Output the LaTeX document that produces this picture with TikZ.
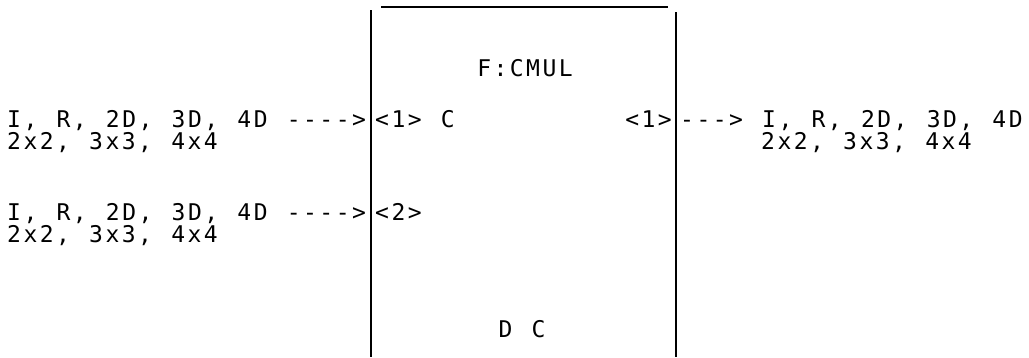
\documentclass[tikz,border=0pt]{standalone}
\usepackage{fontspec}
\setmonofont{DejaVu Sans Mono}[LetterSpace=10.8,WordSpace={1.177,0,0}]
\usetikzlibrary{positioning}
\tikzset{
  txt/.style={font=\ttfamily\fontsize{23}{23}\selectfont,inner sep=0pt,anchor=base west},
  rule/.style={line width=1.8pt}
}

\begin{document}
\begin{tikzpicture}[x=1pt,y=-1pt]
        \useasboundingbox (0,0) rectangle (1029,357);
        % box
        \draw[rule] (371,10) -- (371,357);
        \draw[line width=1.2pt] (381,7) -- (668,7);
        \draw[rule] (676,12) -- (676,357);
        % inputs
        \node[txt] (inA) at (7,127) {I, R, 2D, 3D, 4D ---->};
        \node[txt] (inAtype) at (7,149) {2x2, 3x3, 4x4};
        \node[txt] (inB) at (7,220) {I, R, 2D, 3D, 4D ---->};
        \node[txt] (inBtype) at (7,242) {2x2, 3x3, 4x4};
        % ports
        \node[txt] (portA) at (375,127) {<1> C};
        \node[txt] (portB) at (375,220) {<2>};
        \node[txt,anchor=base east] (portOut) at (672,127) {<1>};
        \node[txt,anchor=base] (fname) at (525,76) {F:CMUL};
        \node[txt,anchor=base] (dc) at (522,337) {D C};
        % output
        \node[txt] (outA) at (680,127) {---> I, R, 2D, 3D, 4D};
        \node[txt] (outAtype) at (761,149) {2x2, 3x3, 4x4};
\end{tikzpicture}
\end{document}
